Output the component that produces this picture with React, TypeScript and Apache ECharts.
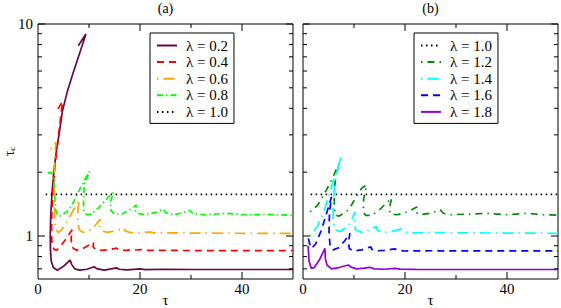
import React, { useEffect, useRef } from "react";
import * as echarts from "echarts";

type Pt = [number, number];

const FONT = "'Liberation Serif', 'Times New Roman', serif";

// ---- data (tau, tau_c) ----
const lam02: Pt[] = [
  [7.9, 7.9], [9.4, 8.97], [8.1, 7.2], [6.8, 5.8], [5.8, 4.85], [4.8, 3.9], [4.2, 3.1], [3.6, 2.5],
  [3.1, 2.0], [2.75, 1.6], [2.5, 1.25], [2.4, 1.0], [2.45, 0.85], [2.6, 0.76], [3.0, 0.71], [3.8, 0.69],
  [5.0, 0.72], [6.3, 0.77], [6.6, 0.735], [7.2, 0.7], [8.2, 0.69], [9.6, 0.697], [11.0, 0.716],
  [11.5, 0.702], [13.0, 0.69], [15.4, 0.708], [15.9, 0.697], [17.5, 0.692], [20.0, 0.7], [21.0, 0.694],
  [25.0, 0.697], [30.0, 0.695], [40.0, 0.695], [50.0, 0.695],
];
const lam04: Pt[] = [
  [3.9, 3.98], [4.8, 4.32], [4.3, 3.4], [3.8, 2.7], [3.3, 2.1], [2.9, 1.6], [2.7, 1.25], [2.65, 1.0],
  [2.8, 0.9], [3.2, 0.862], [3.7, 0.858], [4.5, 0.9], [5.5, 0.97], [6.7, 1.07], [6.5, 0.97], [6.6, 0.9],
  [7.0, 0.87], [7.6, 0.858], [8.5, 0.865], [9.6, 0.895], [10.9, 0.93], [10.8, 0.89], [11.3, 0.865],
  [12.5, 0.856], [14.0, 0.862], [15.4, 0.877], [15.8, 0.862], [17.0, 0.855], [19.5, 0.86], [20.3, 0.863],
  [21.0, 0.855], [25.0, 0.856], [30.0, 0.854], [50.0, 0.853],
];
const lam06: Pt[] = [
  [2.5, 2.57], [3.5, 2.77], [3.3, 2.3], [3.2, 1.9], [3.2, 1.5], [3.3, 1.2], [3.5, 1.08], [3.9, 1.04],
  [4.5, 1.06], [5.5, 1.15], [6.5, 1.27], [7.5, 1.4], [8.1, 1.48], [7.8, 1.32], [7.8, 1.15], [8.1, 1.07],
  [8.8, 1.04], [10.0, 1.06], [11.2, 1.12], [12.2, 1.2], [12.0, 1.12], [12.4, 1.07], [13.5, 1.04],
  [15.0, 1.055], [16.9, 1.09], [17.0, 1.06], [18.0, 1.04], [20.0, 1.035], [22.0, 1.045], [23.0, 1.035],
  [26.0, 1.035], [30.0, 1.032], [50.0, 1.028],
];
const lam08: Pt[] = [
  [1.9, 1.98], [2.6, 2.0], [3.1, 1.8], [3.3, 1.5], [3.4, 1.35], [3.7, 1.27], [4.2, 1.24], [5.0, 1.27],
  [6.1, 1.33], [7.0, 1.45], [7.8, 1.59], [9.1, 1.84], [10.1, 2.02], [9.1, 1.76], [8.9, 1.5], [9.0, 1.32],
  [9.5, 1.26], [10.5, 1.27], [12.0, 1.37], [13.7, 1.52], [14.8, 1.6], [14.2, 1.45], [14.3, 1.32],
  [15.0, 1.27], [16.5, 1.27], [18.0, 1.33], [19.3, 1.4], [19.1, 1.32], [19.6, 1.28], [21.0, 1.26],
  [23.0, 1.29], [24.6, 1.34], [25.0, 1.29], [26.5, 1.26], [28.0, 1.28], [29.8, 1.32], [30.3, 1.28],
  [32.0, 1.26], [35.0, 1.27], [37.0, 1.28], [40.0, 1.26], [45.0, 1.265], [50.0, 1.25],
];
const lam10: Pt[] = [[1.5, 1.5708], [50.0, 1.5708]];
const lam12: Pt[] = [
  [1.4, 1.3], [2.9, 1.4], [4.6, 1.65], [5.9, 1.9], [6.6, 2.08], [6.2, 1.7], [6.1, 1.4], [6.3, 1.26],
  [7.0, 1.24], [8.5, 1.3], [9.5, 1.4], [11.5, 1.68], [12.5, 1.74], [11.9, 1.5], [11.8, 1.3], [12.3, 1.25],
  [13.5, 1.25], [15.0, 1.33], [17.4, 1.51], [16.9, 1.35], [17.1, 1.27], [18.5, 1.26], [20.5, 1.3],
  [22.3, 1.37], [22.2, 1.29], [23.0, 1.26], [25.0, 1.28], [26.9, 1.33], [27.5, 1.28], [29.0, 1.26],
  [33.0, 1.27], [36.0, 1.28], [40.0, 1.26], [44.0, 1.28], [47.0, 1.26], [50.0, 1.255],
];
const lam14: Pt[] = [
  [1.4, 1.0], [2.0, 1.04], [2.7, 1.1], [4.0, 1.28], [5.6, 1.71], [7.6, 2.41], [6.3, 1.85], [5.9, 1.4],
  [5.9, 1.2], [6.3, 1.07], [7.3, 1.05], [9.0, 1.12], [10.2, 1.3], [10.0, 1.15], [10.3, 1.07], [11.5, 1.04],
  [13.0, 1.07], [14.4, 1.11], [14.6, 1.06], [16.0, 1.04], [18.0, 1.06], [19.3, 1.08], [19.6, 1.05],
  [21.0, 1.035], [25.0, 1.04], [30.0, 1.035], [50.0, 1.03],
];
const lam16: Pt[] = [
  [1.05, 0.975], [1.3, 0.92], [1.7, 0.875], [2.5, 0.92], [3.5, 1.05], [4.5, 1.25], [5.6, 1.53], [5.2, 1.3],
  [5.1, 1.05], [5.3, 0.9], [5.9, 0.86], [7.0, 0.88], [8.2, 0.95], [9.2, 1.03], [8.9, 0.93], [9.1, 0.87],
  [10.0, 0.85], [11.5, 0.86], [13.3, 0.89], [13.5, 0.865], [14.5, 0.852], [16.0, 0.855], [18.0, 0.87],
  [18.4, 0.858], [20.0, 0.85], [25.0, 0.852], [50.0, 0.85],
];
const lam18: Pt[] = [
  [1.0, 0.9], [1.2, 0.76], [1.6, 0.705], [2.2, 0.71], [3.2, 0.77], [4.3, 0.875], [4.4, 0.78], [4.7, 0.73],
  [5.6, 0.7], [7.0, 0.71], [8.9, 0.73], [9.3, 0.715], [10.5, 0.7], [12.0, 0.705], [13.1, 0.712],
  [14.0, 0.7], [16.0, 0.697], [18.0, 0.703], [19.0, 0.698], [22.0, 0.696], [30.0, 0.695], [50.0, 0.695],
];

const namesA = ["λ = 0.2", "λ = 0.4", "λ = 0.6", "λ = 0.8", "λ = 1.0"];
const namesB = ["λ = 1.0", "λ = 1.2", "λ = 1.4", "λ = 1.6", "λ = 1.8"];
const titles = ["(a)", "(b)"];

const xTickValues = [10, 20, 30, 40];
const xMajorTicks = [20, 40];
const yTickValues = [0.7, 0.8, 0.9, 1, 2, 3, 4, 5, 6, 7, 8, 9, 10];
const yMajorTicks = [1, 10];
const X_MIN = 0;
const X_MAX = 50;
const Y_MIN = 0.627;
const Y_MAX = 10;

// styles
const styleA = [
  { data: lam02, color: "#670748", type: "solid" as any },
  { data: lam04, color: "#FF0000", type: [7, 5] },
  { data: lam06, color: "#FFA500", type: [1.5, 5, 11, 5] },
  { data: lam08, color: "#00FF00", type: [6, 3, 1.5, 3] },
  { data: lam10, color: "#000000", type: [1.5, 3.5] },
];
const styleB = [
  { data: lam10, color: "#000000", type: [1.5, 3.5] },
  { data: lam12, color: "#008B00", type: [1.5, 5, 7, 5] },
  { data: lam14, color: "#00FFFF", type: [1.5, 5, 11, 5] },
  { data: lam16, color: "#0000FF", type: [7, 5] },
  { data: lam18, color: "#9400D3", type: "solid" as any },
];

const tickData = [
  ...xTickValues.map((v) => [0, v, xMajorTicks.includes(v) ? 1 : 0]),
  ...yTickValues.map((v) => [1, v, yMajorTicks.includes(v) ? 1 : 0]),
];

function tickRender(params: any, api: any) {
  const kind = api.value(0);
  const v = api.value(1);
  const major = api.value(2) === 1;
  const len = major ? 7 : 4;
  const cs = params.coordSys;
  const st = { stroke: "#000", lineWidth: 1 };
  if (kind === 0) {
    const px = api.coord([v, 1])[0];
    return {
      type: "group",
      children: [
        { type: "line", shape: { x1: px, y1: cs.y + cs.height, x2: px, y2: cs.y + cs.height - len }, style: st },
        { type: "line", shape: { x1: px, y1: cs.y, x2: px, y2: cs.y + len }, style: st },
      ],
    };
  }
  const py = api.coord([1, v])[1];
  return {
    type: "group",
    children: [
      { type: "line", shape: { x1: cs.x, y1: py, x2: cs.x + len, y2: py }, style: st },
      { type: "line", shape: { x1: cs.x + cs.width, y1: py, x2: cs.x + cs.width - len, y2: py }, style: st },
    ],
  };
}

function buildOption() {
  const textBase = { fontFamily: FONT, color: "#000" };
  const grids = [
    { left: 38, top: 24, width: 255, height: 255 },
    { left: 303, top: 24, width: 255, height: 255 },
  ].map((g) => ({
    ...g,
    show: true,
    borderColor: "#000",
    borderWidth: 1,
    backgroundColor: "transparent",
    containLabel: false,
    outerBoundsMode: "none",
  }));

  const xAxes = [0, 1].map((i) => ({
    type: "value",
    gridIndex: i,
    min: X_MIN,
    max: X_MAX,
    interval: 20,
    name: "τ",
    nameLocation: "middle",
    nameGap: 13,
    nameMoveOverlap: false,
    nameTextStyle: { ...textBase, fontSize: 15 },
    axisLine: { show: false },
    axisTick: { show: false },
    splitLine: { show: false },
    axisLabel: {
      ...textBase,
      fontSize: 15,
      margin: 2,
      formatter: (v: number) => (v % 20 === 0 && v < X_MAX ? String(v) : ""),
    },
  }));

  const yAxes = [0, 1].map((i) => ({
    type: "log",
    logBase: 10,
    gridIndex: i,
    min: Y_MIN,
    max: Y_MAX,
    name: i === 0 ? "{t|τ}{s|c}" : "",
    nameLocation: "middle",
    nameRotate: 90,
    nameGap: 22,
    nameMoveOverlap: false,
    nameTextStyle: {
      ...textBase,
      rich: {
        t: { fontFamily: FONT, fontSize: 14, color: "#000", verticalAlign: "middle" },
        s: { fontFamily: FONT, fontSize: 9, color: "#000", verticalAlign: "bottom" },
      },
    },
    axisLine: { show: false },
    axisTick: { show: false },
    splitLine: { show: false },
    minorTick: { show: false },
    axisLabel: {
      show: i === 0,
      ...textBase,
      fontSize: 15,
      margin: 5,
      showMinLabel: false,
      formatter: (v: number) => {
        const l = Math.log10(v);
        return Math.abs(l - Math.round(l)) < 1e-6 && l > -0.5 ? String(Math.round(v)) : "";
      },
    },
  }));

  const mk = (names: string[], styles: any[], gi: number) =>
    styles.map((s, k) => ({
      type: "line",
      name: names[k],
      xAxisIndex: gi,
      yAxisIndex: gi,
      data: s.data,
      symbol: "circle",
      symbolSize: 0,
      showSymbol: false,
      smooth: false,
      itemStyle: { color: "rgba(0,0,0,0)", borderWidth: 0 },
      lineStyle: { color: s.color, width: 1.7, type: s.type },
      emphasis: { disabled: true },
      silent: true,
      z: 3,
    }));

  const tickSeries = [0, 1].map((gi) => ({
    type: "custom",
    name: "ticks" + gi,
    xAxisIndex: gi,
    yAxisIndex: gi,
    data: tickData,
    renderItem: tickRender,
    clip: false,
    silent: true,
    z: 5,
  }));

  const legendBase = {
    orient: "vertical",
    top: 33,
    backgroundColor: "#fff",
    borderColor: "#000",
    borderWidth: 1,
    padding: [5, 6, 4, 6],
    itemWidth: 20,
    itemHeight: 14,
    itemGap: 1.6,
    selectedMode: false,
    itemStyle: { color: "rgba(0,0,0,0)", borderWidth: 0 },
    textStyle: { ...textBase, fontSize: 15, padding: [0, 0, 0, 4] },
  };

  return {
    animation: false,
    backgroundColor: "#fff",
    textStyle: { fontFamily: FONT },
    title: titles.map((t, i) => ({
      text: t,
      left: i === 0 ? 165.5 : 430.5,
      top: 1,
      textAlign: "center",
      padding: 0,
      textStyle: { ...textBase, fontSize: 14, fontWeight: "normal" },
    })),
    grid: grids,
    xAxis: xAxes,
    yAxis: yAxes,
    legend: [
      { ...legendBase, left: 150, data: namesA },
      { ...legendBase, left: 414, data: namesB },
    ],
    series: [...mk(namesA, styleA, 0), ...mk(namesB, styleB, 1), ...tickSeries],
  };
}

export default function App() {
  const ref = useRef<HTMLDivElement>(null);
  useEffect(() => {
    if (!ref.current) return;
    const chart = echarts.init(ref.current, null, { renderer: "svg" });
    chart.setOption(buildOption() as any);
    return () => chart.dispose();
  }, []);
  return (
    <div
      ref={ref}
      style={{ position: "fixed", left: 0, top: 0, width: 561, height: 308, background: "#fff" }}
    />
  );
}
